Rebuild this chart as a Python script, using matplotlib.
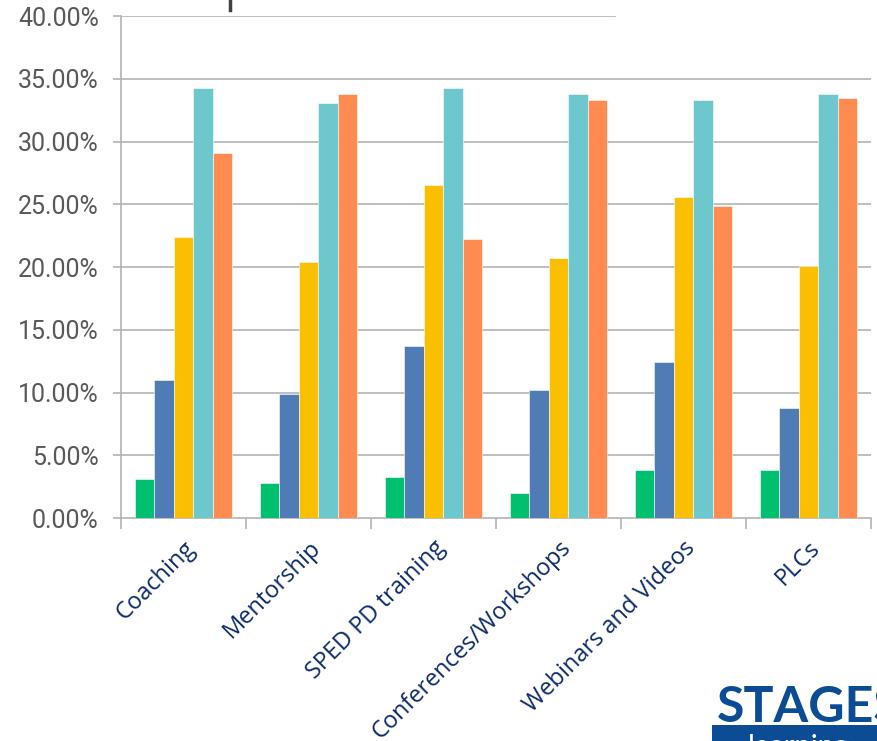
import numpy as np
import matplotlib
matplotlib.use("Agg")
from matplotlib import pyplot as plt
from matplotlib.patches import Rectangle
from matplotlib.lines import Line2D

# categories and series (fractions in %)
categories = ["Coaching", "Mentorship", "SPED PD training",
              "Conferences/Workshops", "Webinars and Videos", "PLCs"]
green_vals = [3.1, 2.8, 3.3, 2.0, 3.8, 3.8]
blue_vals = [11.0, 9.9, 13.7, 10.2, 12.4, 8.8]
yellow_vals = [22.4, 20.4, 26.5, 20.7, 25.6, 20.1]
teal_vals = [34.3, 33.1, 34.3, 33.8, 33.3, 33.8]
orange_vals = [29.1, 33.8, 22.2, 33.3, 24.9, 33.5]
yticks = [0, 5, 10, 15, 20, 25, 30, 35, 40]

series = [green_vals, blue_vals, yellow_vals, teal_vals, orange_vals]
colors = ["#00bf6f", "#4f7cb5", "#f9bf00", "#6cc8cc", "#ff8b50"]

fig = plt.figure(figsize=(8.77, 7.41), dpi=100)
ax = fig.add_axes([121 / 877, 1 - 518 / 741, 750 / 877, 502 / 741])

x = np.arange(len(categories)) + 0.5
w = 0.155
for i, (vals, c) in enumerate(zip(series, colors)):
    ax.bar(x + (i - 2) * w, vals, w, color=c, edgecolor="white",
           linewidth=0.4, zorder=3)

ax.set_xlim(0, len(categories))
ax.set_ylim(0, 40)

# gridlines (top one is cut short by the title box)
for t in yticks[1:]:
    xmax = 0.659 if t == 40 else 1.0
    ax.axhline(t, xmin=0, xmax=xmax, color="#b3b3b3", lw=1.2, zorder=1)

ax.set_yticks(yticks)
ax.set_yticklabels(["%.2f%%" % t for t in yticks])
ax.tick_params(axis="y", length=6, width=1.2, color="#b3b3b3",
               labelsize=18, labelcolor="#595959", pad=10,
               labelfontfamily="Roboto")

ax.set_xticks(x)
ax.set_xticklabels(categories, rotation=45, ha="right", va="top",
                   rotation_mode="anchor", color="#0d2a6b",
                   fontsize=17, family="Open Sans")
ax.tick_params(axis="x", length=0, pad=13)
ax.set_xticks(np.arange(len(categories) + 1), minor=True)
ax.tick_params(axis="x", which="minor", length=8, width=1.2,
               color="#b3b3b3")

for s in ["top", "right"]:
    ax.spines[s].set_visible(False)
for s in ["left", "bottom"]:
    ax.spines[s].set_color("#b3b3b3")
    ax.spines[s].set_linewidth(1.2)

# cut-off title fragment
fig.add_artist(Line2D([230 / 877, 230 / 877], [1.0, 1 - 10 / 741],
                      color="#404040", lw=2.5))

# logo fragment, bottom right
fig.add_artist(Rectangle((712 / 877, 0), 170 / 877, 16 / 741,
                         color="#0b4c95", lw=0))
fig.text(717 / 877, 19 / 741, "STAGES", color="#0b4c95", fontsize=36,
         fontweight="bold", family="Lato", va="baseline", ha="left")
fig.text(748 / 877, -14 / 741, "learning", color="white", fontsize=21,
         family="Lato", va="baseline", ha="left")

fig.savefig("out.png", dpi=100)
